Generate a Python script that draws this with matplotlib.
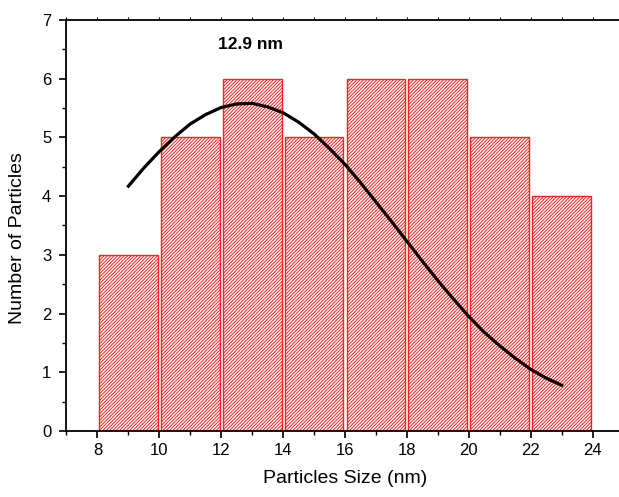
import matplotlib
matplotlib.use("Agg")
import matplotlib.pyplot as plt
from matplotlib.ticker import MultipleLocator, NullFormatter

plt.rcParams['font.family'] = ['Liberation Sans', 'DejaVu Sans']
plt.rcParams['hatch.color'] = '#ff2020'
plt.rcParams['hatch.linewidth'] = 0.7

bin_centers = [9, 11, 13, 15, 17, 19, 21, 23]
counts = [3, 5, 6, 5, 6, 6, 5, 4]

fit_x = [9, 9.5, 10, 10.5, 11, 11.5, 12, 12.5, 13, 13.5, 14, 14.5, 15, 15.5,
         16, 16.5, 17, 17.5, 18, 18.5, 19, 19.5, 20, 20.5, 21, 21.5, 22, 22.5, 23]
fit_y = [4.17, 4.48, 4.76, 5.01, 5.23, 5.39, 5.51, 5.57, 5.58, 5.52, 5.42, 5.26,
         5.06, 4.81, 4.54, 4.23, 3.90, 3.57, 3.23, 2.89, 2.56, 2.25, 1.95, 1.68,
         1.45, 1.24, 1.05, 0.90, 0.78]

annotation = "12.9 nm"

fig = plt.figure(figsize=(6.19, 4.97), dpi=100)
ax = fig.add_axes([0.1074, 0.1328, 0.900, 0.827])

ax.bar(bin_centers, counts, width=1.9, facecolor='white', edgecolor='#ff2020',
       linewidth=1.0, hatch='//////////')
ax.plot(fit_x, fit_y, color='black', linewidth=2.3)

ax.text(12.95, 6.58, annotation, fontsize=12.5, fontweight='bold', ha='center', va='center')

ax.set_xlim(7, 25)
ax.set_ylim(0, 7)
ax.xaxis.set_major_locator(MultipleLocator(2))
ax.xaxis.set_minor_locator(MultipleLocator(1))
ax.yaxis.set_major_locator(MultipleLocator(1))
ax.yaxis.set_minor_locator(MultipleLocator(0.5))

ax.spines['right'].set_visible(False)
for s in ['left', 'bottom', 'top']:
    ax.spines[s].set_linewidth(1.3)

ax.tick_params(axis='both', which='major', direction='out', length=5, width=1.2, labelsize=12)
ax.tick_params(axis='y', which='major', pad=6)
ax.tick_params(axis='both', which='minor', direction='out', length=3, width=1.0)

sec = ax.secondary_xaxis('top')
sec.xaxis.set_major_locator(MultipleLocator(1))
sec.xaxis.set_major_formatter(NullFormatter())
sec.tick_params(axis='x', which='major', direction='out', length=2, width=0.8)
sec.spines['top'].set_visible(False)

ax.set_xlabel('Particles Size (nm)', fontsize=14, labelpad=9)
ax.set_ylabel('Number of Particles', fontsize=14)
ax.yaxis.set_label_coords(-0.073, 0.47)

fig.savefig('out.png', dpi=100)
